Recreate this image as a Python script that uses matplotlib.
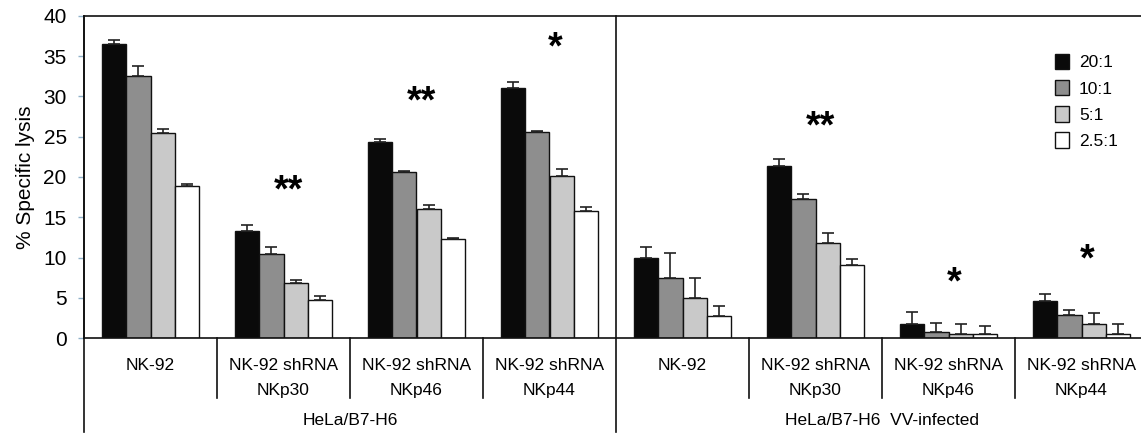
import numpy as np
import matplotlib.pyplot as plt
import matplotlib.transforms as mtransforms

plt.rcParams['font.family'] = ['Liberation Sans', 'DejaVu Sans']

# ---------------- data ----------------
ratios = ["20:1", "10:1", "5:1", "2.5:1"]
colors = ["#0a0a0a", "#8e8e8e", "#c9c9c9", "#ffffff"]

cell_lines = [
    ["NK-92"], ["NK-92 shRNA", "NKp30"], ["NK-92 shRNA", "NKp46"], ["NK-92 shRNA", "NKp44"],
    ["NK-92"], ["NK-92 shRNA", "NKp30"], ["NK-92 shRNA", "NKp46"], ["NK-92 shRNA", "NKp44"],
]
targets = ["HeLa/B7-H6", "HeLa/B7-H6  VV-infected"]

lysis_20 = [36.5, 13.35, 24.4, 31.0, 10.0, 21.4, 1.8, 4.55]
lysis_10 = [32.5, 10.45, 20.65, 25.55, 7.45, 17.3, 0.75, 2.9]
lysis_5 = [25.45, 6.8, 16.05, 20.15, 4.95, 11.75, 0.55, 1.75]
lysis_25 = [18.85, 4.7, 12.25, 15.8, 2.7, 9.05, 0.45, 0.55]

err_20 = [0.55, 0.65, 0.3, 0.8, 1.3, 0.85, 1.45, 0.9]
err_10 = [1.25, 0.85, 0.15, 0.12, 3.1, 0.55, 1.1, 0.55]
err_5 = [0.55, 0.45, 0.5, 0.85, 2.55, 1.3, 1.15, 1.35]
err_25 = [0.25, 0.5, 0.17, 0.5, 1.3, 0.75, 1.0, 1.15]

stars = ["", "**", "**", "*", "", "**", "*", "*"]
star_y = [0, 18.6, 29.75, 36.4, 0, 26.65, 7.2, 10.1]

values = [lysis_20, lysis_10, lysis_5, lysis_25]
errors = [err_20, err_10, err_5, err_25]

# ---------------- figure ----------------
W, H = 1141, 436
fig = plt.figure(figsize=(W / 100, H / 100), dpi=100)
ax = fig.add_axes([84 / W, (H - 338) / H, (1148 - 84) / W, (338 - 16) / H])

n = len(lysis_20)
centers = np.arange(n) + 0.5
bw = 0.182

for k in range(4):
    xs = centers + (k - 1.5) * bw
    ax.bar(xs, values[k], width=bw, color=colors[k], edgecolor="#111111",
           linewidth=1.0, label=ratios[k], zorder=2)
    ax.errorbar(xs, values[k], yerr=[np.zeros(n), errors[k]], fmt="none",
                ecolor="#222222", elinewidth=1.2, capsize=4, capthick=1.2, zorder=3)

# significance marks (text box centre sits a little above the glyph centre)
for i in range(n):
    if stars[i]:
        ax.text(centers[i] + 0.04, star_y[i] - 0.45, stars[i], ha="center",
                va="center", fontsize=27, fontweight="bold")

ax.set_xlim(0, n)
ax.set_ylim(0, 40)
ax.set_yticks(np.arange(0, 41, 5))
ax.set_xticks([])
ax.tick_params(axis="y", length=4.5, width=1, color="#8fb0c8", pad=8, labelsize=15)
ax.set_ylabel("% Specific lysis", fontsize=15, labelpad=6)
ax.spines["right"].set_visible(False)
for s in ["left", "top", "bottom"]:
    ax.spines[s].set_linewidth(1.2)
    ax.spines[s].set_color("#111111")

# category axis below the bars
trans = mtransforms.blended_transform_factory(ax.transData, ax.transAxes)
px = 1.0 / (338 - 16)  # one pixel in axes units
for b in range(n + 1):
    if b % 4 == 0:
        ax.plot([b, b], [1.0, -94 * px], transform=trans, color="#111111",
                lw=1.2, clip_on=False)
    else:
        ax.plot([b, b], [0, -60 * px], transform=trans, color="#111111",
                lw=1.2, clip_on=False)

for i, lines in enumerate(cell_lines):
    for j, line in enumerate(lines):
        ax.text(centers[i], -(27 + 25 * j) * px, line, transform=trans,
                ha="center", va="center", fontsize=12.5)

for g, name in enumerate(targets):
    ax.text(4 * g + 2, -82 * px, name, transform=trans, ha="center",
            va="center", fontsize=12.5)

ax.legend(loc="upper left", bbox_to_anchor=(1046 / W, 1 - 45 / H),
          bbox_transform=fig.transFigure, frameon=False, fontsize=12.5,
          handlelength=0.8, handleheight=1.0, handletextpad=0.6,
          labelspacing=0.55, borderpad=0)

fig.savefig("out.png", dpi=100)
